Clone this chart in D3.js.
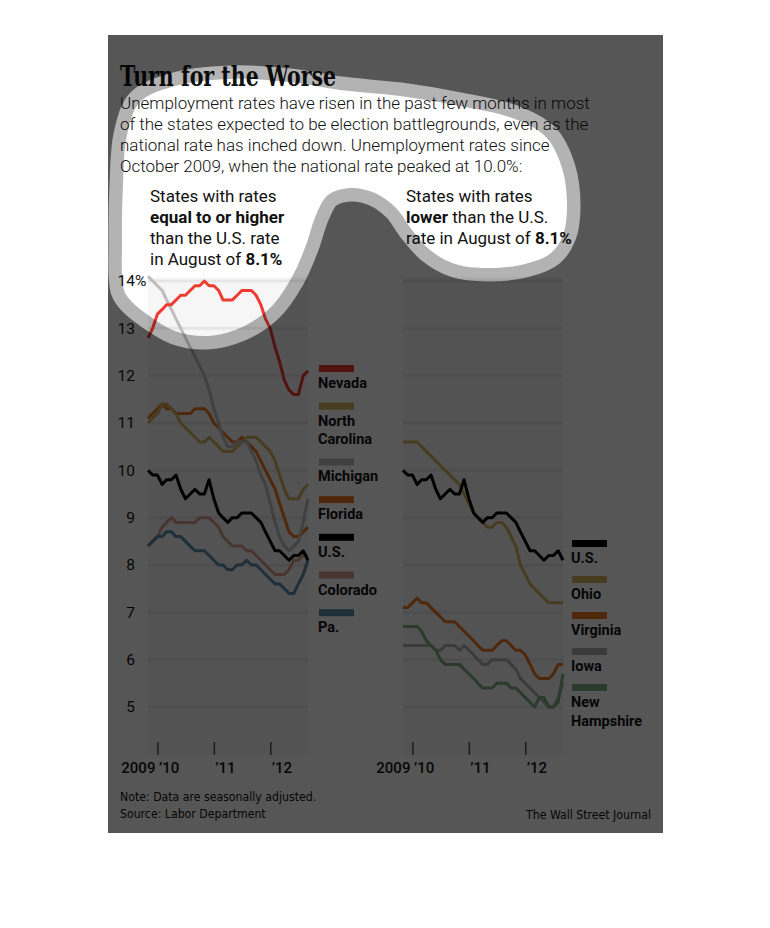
<!DOCTYPE html>
<html lang="en">
<head>
  <meta charset="UTF-8">
  <title>Turn for the Worse</title>
  <script src="https://d3js.org/d3.v7.min.js"></script>
  <style>
    body { margin: 0; background: #fff; }
    svg { display: block; }
    .sans { font-family: Roboto, "Open Sans", sans-serif; }
  </style>
</head>
<body>

<svg width="770" height="928"></svg>

<script>
  const svg = d3.select("svg");

  // Oct 2009 .. Aug 2012, monthly
  const months = d3.timeMonth.range(new Date(2009, 9, 1), new Date(2012, 8, 1));

  // left panel: rates equal to or higher than U.S.
  const nevada        = [12.8, 13.0, 13.3, 13.4, 13.5, 13.5, 13.6, 13.7, 13.7, 13.8, 13.9, 13.9, 14.0, 13.9, 13.9, 13.8, 13.6, 13.6, 13.6, 13.7, 13.8, 13.8, 13.8, 13.7, 13.5, 13.2, 13.0, 12.6, 12.3, 11.9, 11.7, 11.6, 11.6, 12.0, 12.1];
  const northCarolina = [11.0, 11.1, 11.2, 11.4, 11.4, 11.3, 11.2, 11.0, 10.9, 10.8, 10.7, 10.6, 10.6, 10.7, 10.6, 10.5, 10.4, 10.4, 10.4, 10.5, 10.6, 10.7, 10.7, 10.7, 10.6, 10.5, 10.4, 10.2, 9.9, 9.6, 9.4, 9.4, 9.4, 9.6, 9.7];
  const michigan      = [14.1, 14.0, 13.9, 13.8, 13.6, 13.4, 13.2, 13.0, 12.8, 12.6, 12.4, 12.2, 12.0, 11.7, 11.3, 11.0, 10.7, 10.5, 10.5, 10.6, 10.6, 10.6, 10.4, 10.2, 9.9, 9.7, 9.3, 8.9, 8.6, 8.4, 8.3, 8.4, 8.5, 8.9, 9.4];
  const florida       = [11.1, 11.2, 11.3, 11.4, 11.3, 11.3, 11.2, 11.2, 11.2, 11.2, 11.3, 11.3, 11.3, 11.2, 11.0, 10.9, 10.8, 10.7, 10.6, 10.6, 10.7, 10.6, 10.5, 10.4, 10.2, 10.0, 9.8, 9.6, 9.3, 9.0, 8.7, 8.6, 8.6, 8.7, 8.8];
  const us            = [10.0, 9.9, 9.9, 9.7, 9.8, 9.8, 9.9, 9.6, 9.4, 9.5, 9.6, 9.5, 9.5, 9.8, 9.4, 9.1, 9.0, 8.9, 9.0, 9.0, 9.1, 9.1, 9.1, 9.0, 8.9, 8.7, 8.5, 8.3, 8.3, 8.2, 8.1, 8.2, 8.2, 8.3, 8.1];
  const colorado      = [8.4, 8.5, 8.6, 8.8, 8.9, 9.0, 8.9, 8.9, 8.9, 8.9, 8.9, 9.0, 9.0, 9.0, 8.9, 8.8, 8.6, 8.5, 8.4, 8.4, 8.4, 8.3, 8.3, 8.2, 8.1, 8.0, 7.9, 7.8, 7.8, 7.8, 7.9, 8.1, 8.1, 8.2, 8.2];
  const pa            = [8.4, 8.5, 8.6, 8.6, 8.7, 8.7, 8.6, 8.6, 8.5, 8.4, 8.3, 8.3, 8.3, 8.2, 8.1, 8.0, 8.0, 7.9, 7.9, 8.0, 8.0, 8.1, 8.0, 8.0, 7.9, 7.8, 7.7, 7.6, 7.6, 7.5, 7.4, 7.4, 7.6, 7.8, 8.1];

  // right panel: rates lower than U.S.
  const ohio          = [10.6, 10.6, 10.6, 10.6, 10.5, 10.4, 10.3, 10.2, 10.1, 10.0, 9.9, 9.8, 9.7, 9.5, 9.3, 9.1, 9.0, 8.9, 8.8, 8.8, 8.9, 8.9, 8.8, 8.6, 8.4, 8.0, 7.8, 7.6, 7.5, 7.4, 7.3, 7.2, 7.2, 7.2, 7.2];
  const virginia      = [7.1, 7.1, 7.2, 7.3, 7.2, 7.2, 7.1, 7.0, 6.9, 6.8, 6.8, 6.8, 6.7, 6.6, 6.5, 6.4, 6.3, 6.2, 6.2, 6.2, 6.3, 6.4, 6.4, 6.3, 6.2, 6.2, 6.1, 5.9, 5.7, 5.6, 5.6, 5.6, 5.7, 5.9, 5.9];
  const iowa          = [6.3, 6.3, 6.3, 6.3, 6.3, 6.3, 6.3, 6.2, 6.2, 6.3, 6.3, 6.3, 6.2, 6.3, 6.2, 6.1, 6.0, 5.9, 5.9, 6.0, 6.0, 6.0, 6.0, 5.9, 5.8, 5.6, 5.5, 5.4, 5.3, 5.2, 5.1, 5.0, 5.0, 5.2, 5.5];
  const newHampshire  = [6.7, 6.7, 6.7, 6.7, 6.6, 6.4, 6.3, 6.2, 6.0, 5.9, 5.9, 5.9, 5.9, 5.8, 5.7, 5.6, 5.5, 5.4, 5.4, 5.4, 5.5, 5.5, 5.5, 5.4, 5.4, 5.3, 5.2, 5.1, 5.0, 5.2, 5.2, 5.0, 5.0, 5.1, 5.7];

  const yTicks = [5, 6, 7, 8, 9, 10, 11, 12, 13, 14];
  const yearTicks = [new Date(2010, 0, 1), new Date(2011, 0, 1), new Date(2012, 0, 1)];
  const yearLabels = ["\u201910", "\u201911", "\u201912"];

  const colors = {
    "Nevada": "#ef3a2f",
    "North Carolina": "#d2b35c",
    "Michigan": "#bdbdbd",
    "Florida": "#ea7623",
    "U.S.": "#000000",
    "Colorado": "#d69c8b",
    "Pa.": "#5a8cab",
    "Ohio": "#d2b35c",
    "Virginia": "#ea7623",
    "Iowa": "#b0b0b0",
    "New Hampshire": "#7fae80"
  };

  // drawing order (bottom to top)
  const leftSeries = [
    ["Colorado", colorado], ["Pa.", pa], ["Florida", florida], ["North Carolina", northCarolina],
    ["Michigan", michigan], ["Nevada", nevada], ["U.S.", us]
  ];
  const rightSeries = [
    ["Iowa", iowa], ["New Hampshire", newHampshire], ["Virginia", virginia], ["Ohio", ohio], ["U.S.", us]
  ];
  const leftKeys = ["Nevada", "North Carolina", "Michigan", "Florida", "U.S.", "Colorado", "Pa."];
  const leftLegend = [["Nevada"], ["North", "Carolina"], ["Michigan"], ["Florida"], ["U.S."], ["Colorado"], ["Pa."]];
  const rightKeys = ["U.S.", "Ohio", "Virginia", "Iowa", "New Hampshire"];
  const rightLegend = [["U.S."], ["Ohio"], ["Virginia"], ["Iowa"], ["New", "Hampshire"]];

  const y = d3.scaleLinear().domain([5, 14]).range([707, 281]);
  // each month's value is plotted at the end of that month
  const xLeft = d3.scaleTime()
    .domain([d3.timeMonth.offset(months[0], 1), d3.timeMonth.offset(months[months.length - 1], 1)])
    .range([148, 308]);
  const xRight = xLeft.copy().range([403, 563]);

  const panelTop = 277, panelBottom = 755;

  function drawPanel(x, series) {
    const g = svg.append("g");
    const [x0, x1] = x.range();
    g.append("rect")
      .attr("x", x0).attr("y", panelTop)
      .attr("width", x1 - x0).attr("height", panelBottom - panelTop)
      .attr("fill", "#f6f6f6");

    g.selectAll(".grid")
      .data(yTicks)
      .enter().append("line")
      .attr("x1", x0).attr("x2", x1)
      .attr("y1", d => y(d)).attr("y2", d => y(d))
      .attr("stroke", "#e6e6e6")
      .attr("stroke-width", 3);

    const axis = g.append("g")
      .attr("transform", `translate(0,${panelBottom})`)
      .call(d3.axisBottom(x).tickValues(yearTicks).tickSize(-13).tickFormat((d, i) => yearLabels[i]));
    axis.select(".domain").remove();
    axis.selectAll("line").attr("stroke", "#555").attr("stroke-width", 1.5);
    axis.selectAll("text")
      .attr("class", "sans")
      .attr("y", 18).attr("dy", 0).attr("x", 1)
      .attr("text-anchor", "start")
      .attr("font-size", 15).attr("font-weight", 500)
      .attr("fill", "#111");
    g.append("text")
      .attr("class", "sans")
      .attr("x", x(yearTicks[0]) - 2).attr("y", panelBottom + 18)
      .attr("text-anchor", "end")
      .attr("font-size", 15).attr("font-weight", 500).attr("fill", "#111")
      .text("2009");

    const line = d3.line()
      .x((d, i) => x(d3.timeMonth.offset(months[i], 1)))
      .y(d => y(d));

    series.forEach(([name, values]) => {
      g.append("path")
        .attr("d", line(values))
        .attr("fill", "none")
        .attr("stroke", colors[name])
        .attr("stroke-width", 3)
        .attr("stroke-linejoin", "round");
    });
  }

  function drawLegend(keys, labels, lx, top, step, lineGap) {
    const g = svg.append("g");
    let yy = top;
    keys.forEach((k, i) => {
      g.append("rect")
        .attr("x", lx + 1).attr("y", yy)
        .attr("width", 35).attr("height", 7)
        .attr("fill", colors[k]);
      labels[i].forEach((t, j) => {
        g.append("text")
          .attr("class", "sans")
          .attr("x", lx).attr("y", yy + 23 + j * lineGap)
          .attr("font-size", 14.5).attr("font-weight", "bold")
          .attr("fill", "#111")
          .text(t);
      });
      yy += step + (labels[i].length - 1) * lineGap;
    });
  }

  drawPanel(xLeft, leftSeries);
  drawPanel(xRight, rightSeries);

  // y labels on the left panel
  const yAxis = svg.append("g")
    .attr("transform", "translate(135,0)")
    .call(d3.axisLeft(y).tickValues(yTicks).tickSize(0).tickPadding(0));
  yAxis.select(".domain").remove();
  yAxis.selectAll("text")
    .attr("class", "sans")
    .attr("font-size", 15.5)
    .attr("fill", "#111");
  svg.append("text")
    .attr("class", "sans")
    .attr("x", 135).attr("y", y(14)).attr("dy", "0.32em")
    .attr("font-size", 15.5).attr("fill", "#111")
    .text("%");

  drawLegend(leftKeys, leftLegend, 318, 365, 37.7, 18);
  drawLegend(rightKeys, rightLegend, 571, 540, 36, 19);

  // title and texts
  svg.append("text")
    .attr("x", 120).attr("y", 86)
    .attr("font-family", "'DejaVu Serif Condensed', 'DejaVu Serif', serif")
    .attr("font-stretch", "condensed")
    .attr("font-weight", "bold").attr("font-size", 27)
    .attr("textLength", 216).attr("lengthAdjust", "spacingAndGlyphs")
    .attr("fill", "#111")
    .text("Turn for the Worse");

  const intro = [
    "Unemployment rates have risen in the past few months in most",
    "of the states expected to be election battlegrounds, even as the",
    "national rate has inched down. Unemployment rates since",
    "October 2009, when the national rate peaked at 10.0%:"
  ];
  svg.append("g").selectAll("text")
    .data(intro)
    .enter().append("text")
    .attr("class", "sans")
    .attr("x", 120).attr("y", (d, i) => 109 + i * 21)
    .attr("font-size", 17).attr("font-weight", 300)
    .attr("fill", "#111")
    .text(d => d);

  function header(x, lines) {
    const t = svg.append("g");
    lines.forEach((parts, i) => {
      const txt = t.append("text")
        .attr("class", "sans")
        .attr("x", x).attr("y", 202 + i * 21)
        .attr("font-size", 17).attr("fill", "#111");
      parts.forEach(([s, bold]) => {
        txt.append("tspan").attr("font-weight", bold ? "bold" : "normal").text(s);
      });
    });
  }
  header(150, [
    [["States with rates", false]],
    [["equal to or higher", true]],
    [["than the U.S. rate", false]],
    [["in August of ", false], ["8.1%", true]]
  ]);
  header(406, [
    [["States with rates", false]],
    [["lower", true], [" than the U.S.", false]],
    [["rate in August of ", false], ["8.1%", true]]
  ]);

  const foot = svg.append("g")
    .attr("font-family", "'Liberation Sans Narrow', 'DejaVu Sans Condensed', sans-serif")
    .attr("font-size", 12.2).attr("fill", "#111");
  foot.append("text").attr("x", 120).attr("y", 801).text("Note: Data are seasonally adjusted.");
  foot.append("text").attr("x", 120).attr("y", 818).text("Source: Labor Department");
  foot.append("text").attr("x", 651).attr("y", 819).attr("text-anchor", "end").text("The Wall Street Journal");

  // dark overlay with a highlighted blob
  const blob = [
    [124, 290], [122, 240], [123, 185], [127, 135], [140, 102], [175, 86], [230, 79], [290, 82],
    [340, 90], [400, 96], [460, 106], [515, 119], [546, 137], [562, 168], [567, 205], [563, 235],
    [551, 253], [525, 264], [488, 268], [455, 264], [430, 250], [412, 230], [396, 208], [375, 193],
    [350, 188], [328, 195], [316, 215], [306, 245], [292, 277], [270, 308], [240, 328], [207, 336],
    [175, 331], [148, 315], [132, 302]
  ];
  const blobPath = d3.line().curve(d3.curveCatmullRomClosed.alpha(0.5))(blob);

  const mask = svg.append("defs").append("mask")
    .attr("id", "hole")
    .attr("maskUnits", "userSpaceOnUse")
    .attr("x", 0).attr("y", 0).attr("width", 770).attr("height", 928);
  mask.append("rect").attr("width", 770).attr("height", 928).attr("fill", "#fff");
  mask.append("path").attr("d", blobPath)
    .attr("fill", "none").attr("stroke", "#747474").attr("stroke-width", 27)
    .attr("stroke-linejoin", "round");
  mask.append("path").attr("d", blobPath).attr("fill", "#000");

  svg.append("rect")
    .attr("x", 108).attr("y", 35).attr("width", 555).attr("height", 798)
    .attr("fill", "#000").attr("opacity", 0.66)
    .attr("mask", "url(#hole)");
</script>

</body>
</html>
